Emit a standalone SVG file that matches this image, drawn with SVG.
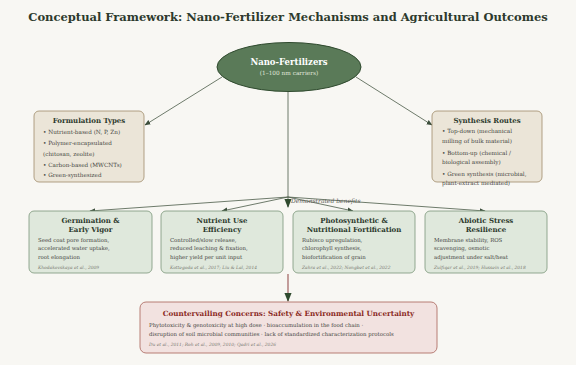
<svg xmlns="http://www.w3.org/2000/svg" width="576" height="365" viewBox="0 0 576 365">
<defs>
<marker id="ah" viewBox="0 0 10 10" refX="9" refY="5" markerWidth="6" markerHeight="6" orient="auto-start-reverse" markerUnits="userSpaceOnUse"><path d="M0,1 L10,5 L0,9 z" fill="#3d4f3c"/></marker>
<marker id="ahb" viewBox="0 0 10 10" refX="9" refY="5" markerWidth="9" markerHeight="9" orient="auto" markerUnits="userSpaceOnUse"><path d="M0,1 L10,5 L0,9 z" fill="#2f4a2e"/></marker>
</defs>
<style>
.t{font-family:"DejaVu Serif",serif;}
.title{font-size:11.5px;font-weight:bold;fill:#2d3a2d;text-anchor:middle;}
.hd{font-size:7px;font-weight:bold;fill:#2d3a2d;text-anchor:middle;}
.bd{font-size:5.4px;fill:#45453f;}
.bb{font-size:5.7px;fill:#45453f;}
.ct{font-size:4.4px;font-style:italic;fill:#7a7a72;}
.beige{fill:#ebe5d8;stroke:#a08c6a;stroke-width:0.8;}
.green{fill:#dfe8dc;stroke:#7a9578;stroke-width:0.8;}
.red{fill:#f2e2e0;stroke:#b07068;stroke-width:0.9;}
.con{stroke:#4a5a48;stroke-width:0.8;fill:none;}
</style>
<rect width="576" height="365" fill="#f8f7f3"/>
<text class="t title" x="288" y="20.5">Conceptual Framework: Nano-Fertilizer Mechanisms and Agricultural Outcomes</text>

<g id="connectors">
<line class="con" x1="222" y1="77" x2="145" y2="125" marker-end="url(#ah)"/>
<line class="con" x1="356" y1="77" x2="432" y2="125" marker-end="url(#ah)"/>
<line class="con" x1="288" y1="92" x2="288" y2="207" marker-end="url(#ahb)" stroke="#3d4f3c" stroke-width="1"/>
<line class="con" x1="288" y1="197" x2="90" y2="211" marker-end="url(#ah)"/>
<line class="con" x1="288" y1="197" x2="222" y2="211" marker-end="url(#ah)"/>
<line class="con" x1="288" y1="197" x2="353" y2="211" marker-end="url(#ah)"/>
<line class="con" x1="288" y1="197" x2="485" y2="211" marker-end="url(#ah)"/>
<text class="t" x="291" y="203" font-size="6" font-style="italic" fill="#5a5a55">Demonstrated benefits</text>
<line x1="288" y1="274" x2="288" y2="301" stroke="#a06060" stroke-width="1.2" marker-end="url(#ahb)"/>
</g>

<g id="nano">
<ellipse cx="289" cy="67" rx="72" ry="24.5" fill="#5a7a58" stroke="#2f4a2e" stroke-width="1"/>
<text class="t" x="289" y="65" font-size="8.5" font-weight="bold" fill="#ffffff" text-anchor="middle">Nano-Fertilizers</text>
<text class="t" x="289" y="74.5" font-size="5.8" fill="#e0e8dc" text-anchor="middle">(1–100 nm carriers)</text>
</g>

<g id="formulation">
<rect class="beige" x="34" y="111" width="110" height="71" rx="5"/>
<text class="t hd" x="89" y="122.5">Formulation Types</text>
<text class="t bb" x="43" y="133.5">• Nutrient-based (N, P, Zn)</text>
<text class="t bb" x="43" y="144.5">• Polymer-encapsulated</text>
<text class="t bb" x="43" y="155.5">(chitosan, zeolite)</text>
<text class="t bb" x="43" y="166.5">• Carbon-based (MWCNTs)</text>
<text class="t bb" x="43" y="177">• Green-synthesized</text>
</g>

<g id="synthesis">
<rect class="beige" x="432" y="111" width="110" height="71" rx="5"/>
<text class="t hd" x="487" y="122.5">Synthesis Routes</text>
<text class="t bb" x="442" y="133">• Top-down (mechanical</text>
<text class="t bb" x="442" y="142.5">milling of bulk material)</text>
<text class="t bb" x="442" y="154.5">• Bottom-up (chemical /</text>
<text class="t bb" x="442" y="164">biological assembly)</text>
<text class="t bb" x="442" y="176">• Green synthesis (microbial,</text>
<text class="t bb" x="442" y="185">plant-extract mediated)</text>
</g>

<g id="germination">
<rect class="green" x="29" y="211" width="123" height="62" rx="5"/>
<text class="t hd" x="90.5" y="222.5">Germination &amp;</text>
<text class="t hd" x="90.5" y="232">Early Vigor</text>
<text class="t bd" x="38" y="242">Seed coat pore formation,</text>
<text class="t bd" x="38" y="250.3">accelerated water uptake,</text>
<text class="t bd" x="38" y="258.6">root elongation</text>
<text class="t ct" x="38" y="268.5">Khodakovskaya et al., 2009</text>
</g>

<g id="nue">
<rect class="green" x="161" y="211" width="122" height="62" rx="5"/>
<text class="t hd" x="222" y="222.5">Nutrient Use</text>
<text class="t hd" x="222" y="232">Efficiency</text>
<text class="t bd" x="170" y="242">Controlled/slow release,</text>
<text class="t bd" x="170" y="250.3">reduced leaching &amp; fixation,</text>
<text class="t bd" x="170" y="258.6">higher yield per unit input</text>
<text class="t ct" x="170" y="268.5">Kottegoda et al., 2017; Liu &amp; Lal, 2014</text>
</g>

<g id="photo">
<rect class="green" x="293" y="211" width="122" height="62" rx="5"/>
<text class="t hd" x="354" y="222.5">Photosynthetic &amp;</text>
<text class="t hd" x="354" y="232">Nutritional Fortification</text>
<text class="t bd" x="302" y="242">Rubisco upregulation,</text>
<text class="t bd" x="302" y="250.3">chlorophyll synthesis,</text>
<text class="t bd" x="302" y="258.6">biofortification of grain</text>
<text class="t ct" x="302" y="268.5">Zahra et al., 2022; Nongbet et al., 2022</text>
</g>

<g id="abiotic">
<rect class="green" x="425" y="211" width="122" height="62" rx="5"/>
<text class="t hd" x="486" y="222.5">Abiotic Stress</text>
<text class="t hd" x="486" y="232">Resilience</text>
<text class="t bd" x="434" y="242">Membrane stability, ROS</text>
<text class="t bd" x="434" y="250.3">scavenging, osmotic</text>
<text class="t bd" x="434" y="258.6">adjustment under salt/heat</text>
<text class="t ct" x="434" y="268.5">Zulfiqar et al., 2019; Hussein et al., 2018</text>
</g>

<g id="concerns">
<rect class="red" x="140" y="302" width="297" height="51" rx="6"/>
<text class="t" x="288.5" y="316" font-size="7.2" font-weight="bold" fill="#8b2b1f" text-anchor="middle">Countervailing Concerns: Safety &amp; Environmental Uncertainty</text>
<text class="t bd" x="149" y="326.5" font-size="6.7">Phytotoxicity &amp; genotoxicity at high dose · bioaccumulation in the food chain ·</text>
<text class="t bd" x="149" y="336" font-size="6.7">disruption of soil microbial communities · lack of standardized characterization protocols</text>
<text class="t ct" x="149" y="345.5" font-size="4.8">Du et al., 2011; Roh et al., 2009, 2010; Qadri et al., 2026</text>
</g>
</svg>
